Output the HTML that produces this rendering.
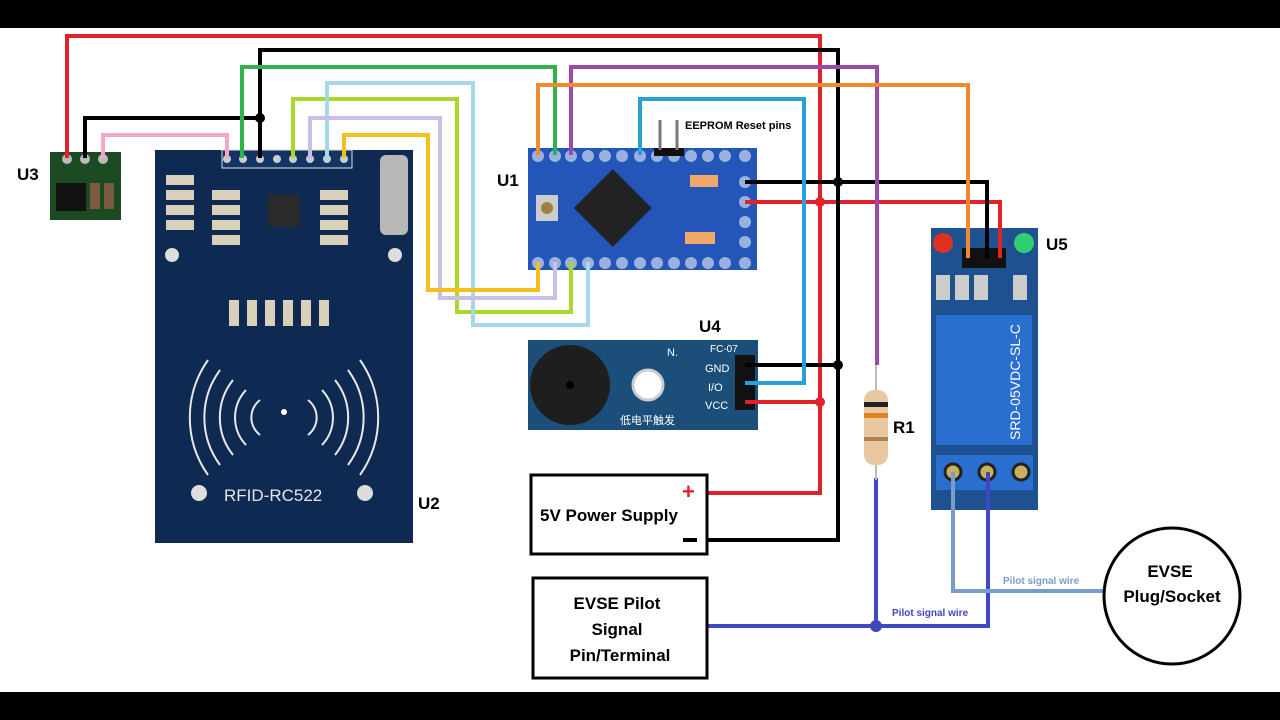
<!DOCTYPE html>
<html><head><meta charset="utf-8"><style>
html,body{margin:0;padding:0;background:#fff;}
svg{display:block;}
text{font-family:"Liberation Sans","Noto Sans CJK SC",sans-serif;}
</style></head><body>
<svg width="1280" height="720" viewBox="0 0 1280 720" xmlns="http://www.w3.org/2000/svg">
<rect x="0" y="0" width="1280" height="720" fill="#fff"/>
<rect x="0" y="0" width="1280" height="28" fill="#000"/>
<rect x="0" y="692" width="1280" height="28" fill="#000"/>

<!-- U3 board -->
<rect x="50" y="152" width="71" height="68" fill="#1c4a22"/>
<rect x="56" y="183" width="30" height="28" fill="#111"/>
<rect x="90" y="183" width="10" height="26" fill="#7a5a40"/>
<rect x="104" y="183" width="10" height="26" fill="#7a5a40"/>
<circle cx="67" cy="159" r="5" fill="#bbb"/><circle cx="85" cy="159" r="5" fill="#bbb"/><circle cx="103" cy="159" r="5" fill="#bbb"/>

<!-- RFID U2 -->
<rect x="155" y="150" width="258" height="393" fill="#0f2a52"/>
<rect x="222" y="150" width="130" height="18" fill="#143564" stroke="#ddd" stroke-width="1"/>
<g fill="#ccc"><circle cx="227" cy="159" r="4"/><circle cx="243" cy="159" r="4"/><circle cx="260" cy="159" r="4"/><circle cx="277" cy="159" r="4"/><circle cx="293" cy="159" r="4"/><circle cx="310" cy="159" r="4"/><circle cx="327" cy="159" r="4"/><circle cx="344" cy="159" r="4"/></g>
<rect x="268" y="195" width="32" height="32" fill="#2a2a2a"/>
<rect x="380" y="155" width="28" height="80" rx="6" fill="#b8b8b8"/>
<g fill="#d8d0b8"><rect x="166" y="175" width="28" height="10"/><rect x="166" y="190" width="28" height="10"/><rect x="166" y="205" width="28" height="10"/><rect x="166" y="220" width="28" height="10"/>
<rect x="212" y="190" width="28" height="10"/><rect x="212" y="205" width="28" height="10"/><rect x="212" y="220" width="28" height="10"/><rect x="212" y="235" width="28" height="10"/>
<rect x="320" y="190" width="28" height="10"/><rect x="320" y="205" width="28" height="10"/><rect x="320" y="220" width="28" height="10"/><rect x="320" y="235" width="28" height="10"/>
<rect x="229" y="300" width="10" height="26"/><rect x="247" y="300" width="10" height="26"/><rect x="265" y="300" width="10" height="26"/><rect x="283" y="300" width="10" height="26"/><rect x="301" y="300" width="10" height="26"/><rect x="319" y="300" width="10" height="26"/></g>
<circle cx="172" cy="255" r="7" fill="#ddd"/><circle cx="395" cy="255" r="7" fill="#ddd"/>
<circle cx="199" cy="493" r="8" fill="#ddd"/><circle cx="365" cy="493" r="8" fill="#ddd"/>
<g fill="none" stroke="#e8e8e8" stroke-width="2">
<path d="M208 360 A100 100 0 0 0 208 475"/><path d="M220 370 A80 80 0 0 0 220 465"/><path d="M233 380 A60 60 0 0 0 233 455"/><path d="M246 390 A40 40 0 0 0 246 445"/><path d="M260 400 A22 22 0 0 0 260 435"/>
<path d="M360 360 A100 100 0 0 1 360 475"/><path d="M348 370 A80 80 0 0 1 348 465"/><path d="M335 380 A60 60 0 0 1 335 455"/><path d="M322 390 A40 40 0 0 1 322 445"/><path d="M308 400 A22 22 0 0 1 308 435"/>
</g>
<circle cx="284" cy="412" r="3" fill="#fff"/>
<text x="224" y="501" font-size="17" fill="#e6e6e6">RFID-RC522</text>

<!-- U1 -->
<rect x="528" y="148" width="229" height="122" fill="#2356b8"/>
<rect x="585" y="180" width="55" height="55" fill="#222" transform="rotate(45 612 208)"/>
<rect x="536" y="195" width="22" height="26" fill="#ccc"/><circle cx="547" cy="208" r="6" fill="#a08040"/>
<rect x="690" y="175" width="28" height="12" fill="#f0a868"/><rect x="685" y="232" width="30" height="12" fill="#f0a868"/>
<g fill="#9ab0dd"><circle cx="538" cy="156" r="6"/><circle cx="555" cy="156" r="6"/><circle cx="571" cy="156" r="6"/><circle cx="588" cy="156" r="6"/><circle cx="605" cy="156" r="6"/><circle cx="622" cy="156" r="6"/><circle cx="640" cy="156" r="6"/><circle cx="657" cy="156" r="6"/><circle cx="674" cy="156" r="6"/><circle cx="691" cy="156" r="6"/><circle cx="708" cy="156" r="6"/><circle cx="725" cy="156" r="6"/><circle cx="745" cy="156" r="6"/>
<circle cx="538" cy="263" r="6"/><circle cx="555" cy="263" r="6"/><circle cx="571" cy="263" r="6"/><circle cx="588" cy="263" r="6"/><circle cx="605" cy="263" r="6"/><circle cx="622" cy="263" r="6"/><circle cx="640" cy="263" r="6"/><circle cx="657" cy="263" r="6"/><circle cx="674" cy="263" r="6"/><circle cx="691" cy="263" r="6"/><circle cx="708" cy="263" r="6"/><circle cx="725" cy="263" r="6"/><circle cx="745" cy="263" r="6"/>
<circle cx="745" cy="182" r="6"/><circle cx="745" cy="202" r="6"/><circle cx="745" cy="222" r="6"/><circle cx="745" cy="242" r="6"/></g>
<rect x="654" y="148" width="30" height="8" fill="#111"/>
<line x1="660" y1="120" x2="660" y2="150" stroke="#777" stroke-width="3"/><line x1="677" y1="120" x2="677" y2="150" stroke="#777" stroke-width="3"/>
<text x="685" y="129" font-size="11" font-weight="bold" fill="#000">EEPROM Reset pins</text>

<!-- U4 -->
<rect x="528" y="340" width="230" height="90" fill="#1b4f7a"/>
<circle cx="570" cy="385" r="40" fill="#1e1e1e"/><circle cx="570" cy="385" r="4" fill="#000"/>
<circle cx="648" cy="385" r="15" fill="#fff" stroke="#ccc" stroke-width="3"/>
<rect x="735" y="355" width="20" height="55" fill="#111"/>
<text x="705" y="372" font-size="11" fill="#fff">GND</text><text x="708" y="391" font-size="11" fill="#fff">I/O</text><text x="705" y="409" font-size="11" fill="#fff">VCC</text>
<text x="710" y="352" font-size="10" fill="#fff">FC-07</text><text x="667" y="356" font-size="11" fill="#fff">N.</text>
<text x="620" y="424" font-size="11" fill="#fff">低电平触发</text>

<!-- U5 relay -->
<rect x="931" y="228" width="107" height="282" fill="#1d5190"/>
<rect x="936" y="315" width="96" height="130" fill="#2a6fd0"/>
<circle cx="943" cy="243" r="10" fill="#e03020"/><circle cx="1024" cy="243" r="10" fill="#30d070"/>
<rect x="962" y="248" width="44" height="20" fill="#111"/>
<g fill="#ccc"><rect x="936" y="275" width="14" height="25"/><rect x="955" y="275" width="14" height="25"/><rect x="974" y="275" width="14" height="25"/><rect x="1013" y="275" width="14" height="25"/></g>
<rect x="936" y="455" width="97" height="35" fill="#2a6fd0"/>
<g fill="#c8b060" stroke="#222" stroke-width="3"><circle cx="953" cy="472" r="8"/><circle cx="987" cy="472" r="8"/><circle cx="1021" cy="472" r="8"/></g>
<text x="1020" y="440" font-size="14" fill="#fff" transform="rotate(-90 1020 440)">SRD-05VDC-SL-C</text>

<!-- wires -->
<g fill="none" stroke-width="4" stroke-linejoin="miter">
<path d="M67 158 V36 H820 V493 H707" stroke="#e0222a"/>
<path d="M745 202 H1000 V258" stroke="#e0222a"/>
<path d="M745 402 H820" stroke="#e0222a"/>
<path d="M260 158 V50 H838 V540 H707" stroke="#000"/>
<path d="M85 158 V118 H260" stroke="#000"/>
<path d="M745 182 H987 V258" stroke="#000"/>
<path d="M745 365 H838" stroke="#000"/>
<path d="M242 158 V67 H555 V155" stroke="#2db34a"/>
<path d="M571 155 V67 H877 V365" stroke="#9a4aaa"/>
<path d="M538 155 V85 H968 V258" stroke="#f08a30"/>
<path d="M640 155 V99 H804 V383 H745" stroke="#2aa0d8"/>
<path d="M103 158 V135 H227 V158" stroke="#f2a6c8"/>
<path d="M293 158 V99 H457 V312 H571 V262" stroke="#a8d82a"/>
<path d="M327 158 V83 H473 V325 H588 V262" stroke="#a6d8ea"/>
<path d="M310 158 V118 H440 V298 H555 V262" stroke="#c8c0e4"/>
<path d="M344 158 V135 H428 V290 H538 V262" stroke="#f4c020"/>
<path d="M876 478 V626 H707" stroke="#4048c0"/>
<path d="M876 626 H988 V472" stroke="#4048c0"/>
<path d="M953 472 V591 H1105" stroke="#7a9cc8"/>
</g>
<g fill="#e0222a"><circle cx="820" cy="202" r="5"/><circle cx="820" cy="402" r="5"/></g>
<g fill="#000"><circle cx="260" cy="118" r="5"/><circle cx="838" cy="182" r="5"/><circle cx="838" cy="365" r="5"/></g>
<circle cx="876" cy="626" r="6" fill="#4048c0"/>

<!-- R1 -->
<rect x="864" y="390" width="24" height="75" rx="10" fill="#e8c8a0"/>
<rect x="864" y="402" width="24" height="5" fill="#222"/><rect x="864" y="413" width="24" height="5" fill="#e08020"/><rect x="864" y="437" width="24" height="4" fill="#b08050"/>
<line x1="876" y1="365" x2="876" y2="390" stroke="#bbb" stroke-width="2"/><line x1="876" y1="465" x2="876" y2="480" stroke="#bbb" stroke-width="2"/>

<!-- boxes -->
<rect x="531" y="475" width="176" height="79" fill="#fff" stroke="#000" stroke-width="3"/>
<text x="540" y="521" font-size="17" font-weight="bold">5V Power Supply</text>
<text x="682" y="499" font-size="22" font-weight="bold" fill="#e0222a">+</text>
<rect x="683" y="538" width="14" height="4" fill="#000"/>
<rect x="533" y="578" width="174" height="100" fill="#fff" stroke="#000" stroke-width="3"/>
<text x="617" y="609" font-size="17" font-weight="bold" text-anchor="middle">EVSE Pilot</text>
<text x="617" y="635" font-size="17" font-weight="bold" text-anchor="middle">Signal</text>
<text x="620" y="661" font-size="17" font-weight="bold" text-anchor="middle">Pin/Terminal</text>
<circle cx="1172" cy="596" r="68" fill="#fff" stroke="#000" stroke-width="3"/>
<text x="1170" y="577" font-size="17" font-weight="bold" text-anchor="middle">EVSE</text>
<text x="1172" y="602" font-size="17" font-weight="bold" text-anchor="middle">Plug/Socket</text>
<text x="1003" y="584" font-size="10" font-weight="bold" fill="#7a9cc8">Pilot signal wire</text>
<text x="892" y="616" font-size="10" font-weight="bold" fill="#4048c0">Pilot signal wire</text>

<!-- labels -->
<g font-size="17" font-weight="bold" fill="#000">
<text x="17" y="180">U3</text><text x="497" y="186">U1</text><text x="418" y="509">U2</text>
<text x="699" y="332">U4</text><text x="1046" y="250">U5</text><text x="893" y="433">R1</text>
</g>
</svg>
</body></html>
